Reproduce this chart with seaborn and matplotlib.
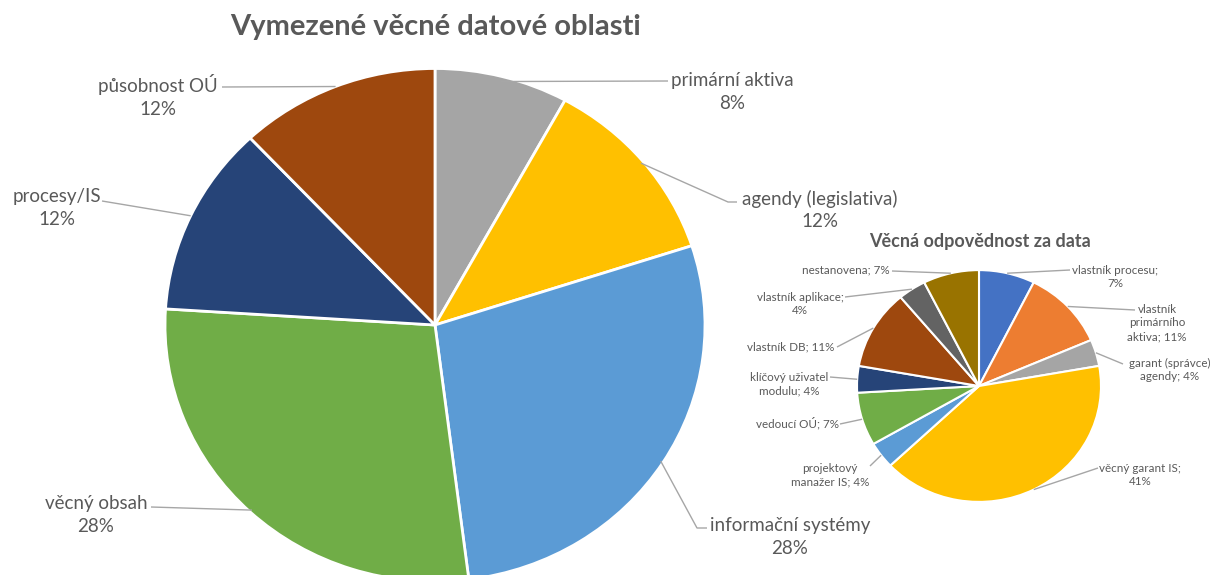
import numpy as np
import matplotlib
matplotlib.use("Agg")
import matplotlib.pyplot as plt
import seaborn as sns

# ── Data ───────────────────────────────────────────────────────
area_labels = ["primární aktiva", "agendy (legislativa)", "informační systémy",
               "věcný obsah", "procesy/IS", "působnost OÚ"]
area_counts = [2, 3, 7, 7, 3, 3]
area_colors = ["#A5A5A5", "#FFC000", "#5B9BD5", "#70AD47", "#264478", "#9E480E"]

resp_labels = ["vlastník procesu;", "vlastník\nprimárního\naktiva;",
               "garant (správce)\nagendy;", "věcný garant IS;",
               "projektový\nmanažer IS;", "vedoucí OÚ;",
               "klíčový uživatel\nmodulu;", "vlastník DB;",
               "vlastník aplikace;", "nestanovena;"]
resp_counts = [2, 3, 1, 11, 1, 2, 1, 3, 1, 2]
resp_colors = ["#4472C4", "#ED7D31", "#A5A5A5", "#FFC000", "#5B9BD5",
               "#70AD47", "#264478", "#9E480E", "#636363", "#997300"]
# separator after the label name: newline or space
resp_sep = ["\n", " ", " ", "\n", " ", " ", " ", " ", "\n", " "]

# ── Layout (pixels of the 1218x575 canvas) ─────────────────────
W, H = 1218, 575
SY = 0.95  # vertical squash of the original picture

big_center, big_r = (435, 325), 270
small_center, small_r = (979, 386), 122

big_text_pos = [(732, 92), (820, 210), (790, 537), (96, 515), (57, 208), (158, 96)]
big_leader_end = [[(668, 81)], [(728, 202), (737, 202)], [(697, 528), (707, 528)],
                  [(151, 507)], [(102, 201)], [(222, 87)]]
big_leader_f = [0.98, 0.99, 0.99, 0.99, 1.0, 1.0]

small_text_pos = [(1115, 277), (1157, 323), (1170, 370), (1140, 475), (830, 475),
                  (797, 423), (789, 384), (791, 347), (800, 304), (846, 270)]
small_leader_end = [[(1070, 270)], [(1135, 310)], [(1123, 364)], [(1098, 468)],
                    [(870, 466)], [(840, 424)], [(830, 377)], [(837, 347)],
                    [(845, 297)], [(892, 271)]]

TEXT_COLOR = "#595959"
LINE_COLOR = "#A6A6A6"


def to_data(x, y):
    return x, (H - y) / SY


sns.set_theme(style="white")
plt.rcParams["font.family"] = ["Lato", "DejaVu Sans"]

fig = plt.figure(figsize=(W / 100, H / 100), dpi=100)
ax = fig.add_axes([0, 0, 1, 1])


def draw_pie(counts, colors, center, radius, lw):
    cx, cy = to_data(*center)
    wedges, _ = ax.pie(counts, colors=colors, startangle=90, counterclock=False,
                       center=(cx, cy), radius=radius,
                       wedgeprops=dict(edgecolor="white", linewidth=lw))
    return wedges, (cx, cy)


def leader(wedge, c, radius, f, path):
    a = np.deg2rad((wedge.theta1 + wedge.theta2) / 2)
    xs = [c[0] + radius * f * np.cos(a)]
    ys = [c[1] + radius * f * np.sin(a)]
    for px, py in path:
        dx, dy = to_data(px, py)
        xs.append(dx)
        ys.append(dy)
    ax.plot(xs, ys, color=LINE_COLOR, lw=1, solid_capstyle="butt", zorder=1)


# ── 1. Big pie ────────────────────────────────────────────────
big_wedges, bc = draw_pie(area_counts, area_colors, big_center, big_r, 2)
total = sum(area_counts)
for w, lab, n, pos, path, f in zip(big_wedges, area_labels, area_counts,
                                   big_text_pos, big_leader_end, big_leader_f):
    leader(w, bc, big_r, f, path)
    ax.text(*to_data(*pos), f"{lab}\n{round(100 * n / total)}%",
            ha="center", va="center", fontsize=13.5, color=TEXT_COLOR,
            linespacing=1.4)

# ── 2. Small pie ──────────────────────────────────────────────
small_wedges, sc = draw_pie(resp_counts, resp_colors, small_center, small_r, 1.5)
total = sum(resp_counts)
for w, lab, n, sep, pos, path in zip(small_wedges, resp_labels, resp_counts,
                                     resp_sep, small_text_pos, small_leader_end):
    leader(w, sc, small_r, 1.0, path)
    ax.text(*to_data(*pos), f"{lab}{sep}{round(100 * n / total)}%",
            ha="center", va="center", fontsize=8.4, color=TEXT_COLOR,
            linespacing=1.3)

# ── Titles ────────────────────────────────────────────────────
ax.text(*to_data(436, 27), "Vymezené věcné datové oblasti", ha="center",
        va="center", fontsize=21, fontweight="bold", color=TEXT_COLOR)
ax.text(*to_data(980, 242), "Věcná odpovědnost za data", ha="center",
        va="center", fontsize=13, fontweight="bold", color=TEXT_COLOR)

ax.set_aspect("auto")
ax.set_xlim(0, W)
ax.set_ylim(0, H / SY)
ax.axis("off")

fig.savefig("out.png", dpi=100, facecolor="white")
